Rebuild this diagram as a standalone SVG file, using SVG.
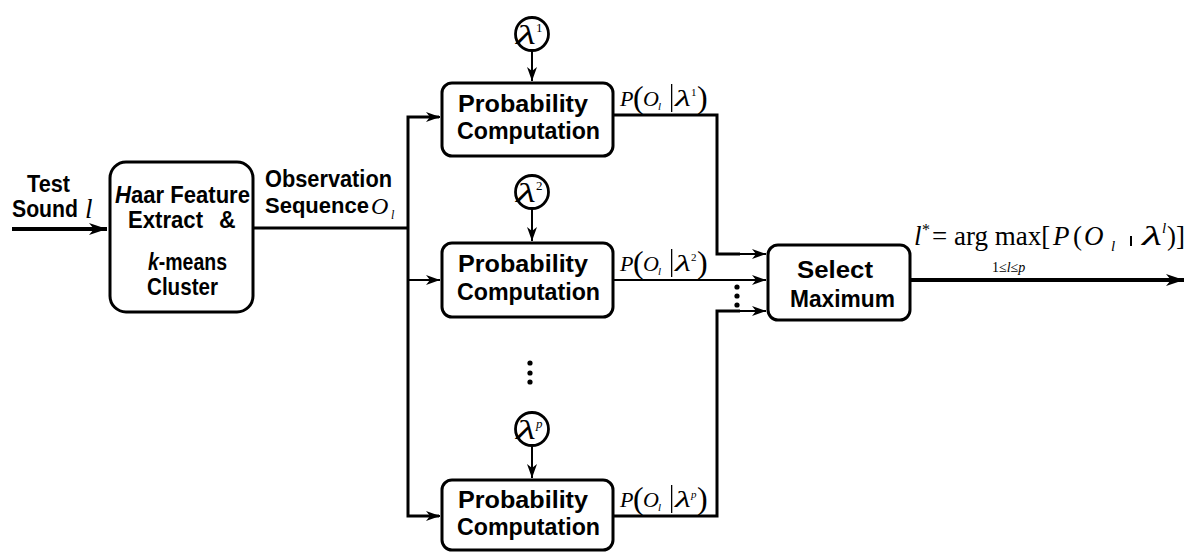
<svg xmlns="http://www.w3.org/2000/svg" width="1192" height="552" viewBox="0 0 1192 552">
<defs>
<style>
.box{fill:#fff;stroke:#000;stroke-width:3}
.lbl{font-family:"Liberation Sans",Arial,sans-serif;font-weight:bold;font-size:23px;fill:#000}
.ser{font-family:"Liberation Serif","Times New Roman",serif;fill:#000}
.it{font-style:italic}
.ln{fill:none;stroke:#000;stroke-width:3}
.thin{fill:none;stroke:#000;stroke-width:2}
.circ{fill:#fff;stroke:#000;stroke-width:2.8}
</style>
<marker id="arr" viewBox="0 0 14 10" refX="14" refY="5" markerWidth="14" markerHeight="10" markerUnits="userSpaceOnUse" orient="auto">
<path d="M0,0 L14,5 L0,10 L4,5 z" fill="#000"/>
</marker>
<marker id="arrB" viewBox="0 0 18 12" refX="18" refY="6" markerWidth="18" markerHeight="12" markerUnits="userSpaceOnUse" orient="auto">
<path d="M0,0 L18,6 L0,12 L5,6 z" fill="#000"/>
</marker>
</defs>
<rect width="1192" height="552" fill="#fff"/>

<g id="connectors">
<line x1="12" y1="229" x2="107" y2="229" stroke="#000" stroke-width="4" marker-end="url(#arrB)"/>
<line x1="253" y1="228" x2="408" y2="228" class="ln"/>
<path d="M439,117 H408 V516 H439" class="ln"/>
<line x1="408" y1="117" x2="440" y2="117" class="thin" marker-end="url(#arr)"/>
<line x1="408" y1="280" x2="440" y2="280" class="thin" marker-end="url(#arr)"/>
<line x1="408" y1="516" x2="440" y2="516" class="thin" marker-end="url(#arr)"/>
<line x1="532" y1="51" x2="532" y2="81" class="thin" marker-end="url(#arr)"/>
<line x1="532" y1="209" x2="532" y2="241" class="thin" marker-end="url(#arr)"/>
<line x1="532" y1="446" x2="532" y2="478" class="thin" marker-end="url(#arr)"/>
<path d="M613,115 H717 V254 H740" class="ln"/>
<line x1="716" y1="254" x2="766" y2="254" class="thin" marker-end="url(#arr)"/>
<line x1="613" y1="280" x2="766" y2="280" class="thin" marker-end="url(#arr)"/>
<path d="M613,516 H717 V311 H740" class="ln"/>
<line x1="716" y1="311" x2="766" y2="311" class="thin" marker-end="url(#arr)"/>
<line x1="910" y1="280" x2="1184" y2="280" stroke="#000" stroke-width="4" marker-end="url(#arrB)"/>
<circle cx="737" cy="287" r="2.6"/>
<circle cx="737" cy="296" r="2.6"/>
<circle cx="737" cy="305" r="2.6"/>
<circle cx="530" cy="363" r="2.6"/>
<circle cx="530" cy="373" r="2.6"/>
<circle cx="530" cy="382" r="2.6"/>
</g>

<g id="input">
<text class="lbl" x="27" y="192" textLength="43" lengthAdjust="spacingAndGlyphs">Test</text>
<text class="lbl" x="12" y="217" textLength="66" lengthAdjust="spacingAndGlyphs">Sound</text>
<text class="ser it" x="85" y="218" font-size="27">l</text>
</g>

<g id="haar">
<rect class="box" x="110" y="162" width="143" height="150" rx="16"/>
<text class="lbl" x="115" y="203" textLength="135" lengthAdjust="spacingAndGlyphs"><tspan font-style="italic">H</tspan>aar Feature</text>
<text class="lbl" x="128" y="228" textLength="75" lengthAdjust="spacingAndGlyphs">Extract</text>
<text class="lbl" x="219" y="228">&amp;</text>
<text class="lbl" x="148" y="270" textLength="79" lengthAdjust="spacingAndGlyphs"><tspan font-style="italic">k</tspan>-means</text>
<text class="lbl" x="147" y="295" textLength="71" lengthAdjust="spacingAndGlyphs">Cluster</text>
</g>

<g id="observation">
<text class="lbl" x="265" y="187" textLength="127" lengthAdjust="spacingAndGlyphs">Observation</text>
<text class="lbl" x="265" y="213" style="font-size:22px">Sequence<tspan x="371" y="214" style="font-family:'Liberation Serif','Times New Roman',serif;font-weight:normal;font-style:italic;font-size:24px">O</tspan><tspan x="391" y="219" style="font-family:'Liberation Serif','Times New Roman',serif;font-weight:normal;font-style:italic;font-size:12px">l</tspan></text>
</g>

<g id="lambda1">
<circle class="circ" cx="532" cy="34" r="16.5"/>
<text class="ser it" x="516" y="44" font-size="28" textLength="20" lengthAdjust="spacingAndGlyphs">λ</text>
<text class="ser" x="536" y="32" font-size="13">1</text>
</g>
<g id="lambda2">
<circle class="circ" cx="532" cy="192" r="16.5"/>
<text class="ser it" x="516" y="202" font-size="28" textLength="20" lengthAdjust="spacingAndGlyphs">λ</text>
<text class="ser" x="536" y="190" font-size="13">2</text>
</g>
<g id="lambdap">
<circle class="circ" cx="532" cy="429" r="16.5"/>
<text class="ser it" x="516" y="439" font-size="28" textLength="20" lengthAdjust="spacingAndGlyphs">λ</text>
<text class="ser it" x="536" y="428" font-size="13">p</text>
</g>

<g id="prob1">
<rect class="box" x="442" y="83" width="171" height="73" rx="10"/>
<text class="lbl" x="458" y="112" textLength="130" lengthAdjust="spacingAndGlyphs">Probability</text>
<text class="lbl" x="457" y="139" textLength="143" lengthAdjust="spacingAndGlyphs">Computation</text>
</g>
<g id="prob2">
<rect class="box" x="442" y="243" width="171" height="74" rx="10"/>
<text class="lbl" x="458" y="272" textLength="130" lengthAdjust="spacingAndGlyphs">Probability</text>
<text class="lbl" x="457" y="300" textLength="143" lengthAdjust="spacingAndGlyphs">Computation</text>
</g>
<g id="probp">
<rect class="box" x="442" y="480" width="171" height="70" rx="10"/>
<text class="lbl" x="458" y="508" textLength="130" lengthAdjust="spacingAndGlyphs">Probability</text>
<text class="lbl" x="457" y="535" textLength="143" lengthAdjust="spacingAndGlyphs">Computation</text>
</g>

<g id="p1">
<text class="ser it" x="620" y="106" font-size="22">P</text>
<text class="ser" x="633" y="108" font-size="32">(</text>
<text class="ser it" x="643" y="106" font-size="22">O</text>
<text class="ser it" x="658" y="110" font-size="11">l</text>
<rect x="671" y="84" width="1.3" height="28"/>
<text class="ser it" x="675" y="106" font-size="24" textLength="16" lengthAdjust="spacingAndGlyphs">λ</text>
<text class="ser" x="691" y="96" font-size="11">1</text>
<text class="ser" x="697" y="108" font-size="32">)</text>
</g>
<g id="p2">
<text class="ser it" x="620" y="271" font-size="22">P</text>
<text class="ser" x="633" y="273" font-size="32">(</text>
<text class="ser it" x="643" y="271" font-size="22">O</text>
<text class="ser it" x="658" y="275" font-size="11">l</text>
<rect x="671" y="249" width="1.3" height="28"/>
<text class="ser it" x="675" y="271" font-size="24" textLength="16" lengthAdjust="spacingAndGlyphs">λ</text>
<text class="ser" x="691" y="261" font-size="11">2</text>
<text class="ser" x="697" y="273" font-size="32">)</text>
</g>
<g id="pp">
<text class="ser it" x="620" y="507" font-size="22">P</text>
<text class="ser" x="633" y="509" font-size="32">(</text>
<text class="ser it" x="643" y="507" font-size="22">O</text>
<text class="ser it" x="658" y="511" font-size="11">l</text>
<rect x="671" y="485" width="1.3" height="28"/>
<text class="ser it" x="675" y="507" font-size="24" textLength="16" lengthAdjust="spacingAndGlyphs">λ</text>
<text class="ser it" x="691" y="498" font-size="11">p</text>
<text class="ser" x="697" y="509" font-size="32">)</text>
</g>

<g id="select">
<rect class="box" x="768" y="245" width="142" height="75" rx="10"/>
<text class="lbl" x="797" y="278" textLength="76" lengthAdjust="spacingAndGlyphs">Select</text>
<text class="lbl" x="790" y="307" textLength="105" lengthAdjust="spacingAndGlyphs">Maximum</text>
</g>

<g id="formula">
<text class="ser it" x="914" y="245" font-size="27">l</text>
<text class="ser" x="922" y="235" font-size="16">*</text>
<text class="ser" x="932" y="245" font-size="27">= arg max[</text>
<text class="ser it" x="1053" y="245" font-size="27">P</text>
<text class="ser" x="1073" y="245" font-size="27">(</text>
<text class="ser it" x="1084" y="245" font-size="27">O</text>
<text class="ser it" x="1111" y="251" font-size="15">l</text>
<rect x="1130" y="236" width="2" height="10"/>
<text class="ser it" x="1142" y="245" font-size="28" textLength="20" lengthAdjust="spacingAndGlyphs">λ</text>
<text class="ser it" x="1162" y="233" font-size="15">l</text>
<text class="ser" x="1167" y="245" font-size="27">)]</text>
<text class="ser" x="992" y="272" font-size="14">1≤<tspan font-style="italic">l</tspan>≤<tspan font-style="italic">p</tspan></text>
</g>
</svg>
